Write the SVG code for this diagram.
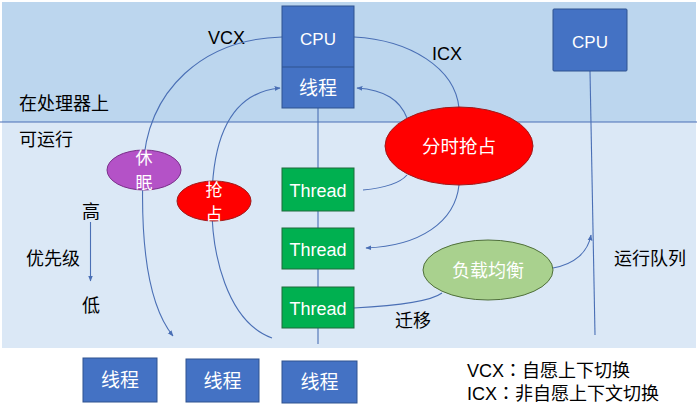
<svg xmlns="http://www.w3.org/2000/svg" width="700" height="409" viewBox="0 0 700 409">
<defs>
<marker id="ah" viewBox="0 0 10 10" refX="9" refY="5" markerWidth="6" markerHeight="6" orient="auto" markerUnits="userSpaceOnUse">
<path d="M0,1 L10,5 L0,9 Z" fill="#4a6fb5"/>
</marker>
<style>
text{font-family:"Liberation Sans","Noto Sans CJK SC",sans-serif;}
.k{fill:#000;font-size:18px;}
.w{fill:#fff;text-anchor:middle;}
.blue{fill:#4472c4;stroke:#2f528f;stroke-width:1;}
.grn{fill:#00b050;stroke:#1f6b3a;stroke-width:1;}
.c{fill:none;stroke:#4a6fb5;stroke-width:1.1;}
.ln{stroke:#4a6fb5;stroke-width:1.1;fill:none;}
.lg{font-family:"Liberation Sans","Noto Sans CJK TC",sans-serif;}
</style>
</defs>
<rect x="0" y="0" width="700" height="409" fill="#ffffff"/>
<rect x="2" y="2" width="694" height="120" fill="#bcd6ee"/>
<rect x="2" y="122" width="694" height="226" fill="#dbe8f6"/>
<line x1="0" y1="122" x2="697" y2="122" stroke="#4a6fb5" stroke-width="1.2"/>

<g id="region-labels">
<text class="k" x="19" y="110" font-size="18.5">在处理器上</text>
<text class="k" x="19" y="146">可运行</text>
<text class="k" x="91" y="218" text-anchor="middle" font-size="17">高</text>
<text class="k" x="26" y="265">优先级</text>
<text class="k" x="91" y="312" text-anchor="middle" font-size="17">低</text>
<text class="k" x="614" y="265">运行队列</text>
<text class="k" x="395" y="327">迁移</text>
<text class="k" x="208" y="44" font-size="16">VCX</text>
<text class="k" x="432" y="60" font-size="16">ICX</text>
</g>

<g id="connectors">
<line class="ln" x1="318" y1="108" x2="318" y2="344"/>
<line class="ln" x1="590" y1="71" x2="595" y2="335"/>
<line class="ln" x1="90.5" y1="222" x2="90.5" y2="281" marker-end="url(#ah)"/>
<path class="c" d="M282,37 C205,39 146,88 143,170 C140,258 152,310 173,336" marker-end="url(#ah)"/>
<path class="c" d="M272,338 C228,322 210,255 212,195 C214,125 238,92 280,88" marker-end="url(#ah)"/>
<path class="c" d="M354,37 C410,40 455,68 459,108"/>
<path class="c" d="M407,118 C400,100 385,90 357,88" marker-end="url(#ah)"/>
<path class="c" d="M363,190 C385,188 400,183 407,175"/>
<path class="c" d="M459,185 C455,222 420,246 366,248" marker-end="url(#ah)"/>
<path class="c" d="M354,308 C392,306 430,302 442,293"/>
<path class="c" d="M553,268 C575,264 588,252 591,235" marker-end="url(#ah)"/>
</g>

<g id="cpu1">
<rect class="blue" x="282" y="6" width="72" height="102"/>
<line x1="282" y1="67" x2="354" y2="67" stroke="#2f528f" stroke-width="1"/>
<text class="w" x="318" y="45" font-size="17">CPU</text>
<text class="w" x="318" y="95" font-size="19">线程</text>
</g>

<g id="cpu2">
<rect class="blue" x="553" y="9" width="74" height="62" rx="1"/>
<text class="w" x="590" y="48" font-size="17">CPU</text>
</g>

<g id="thread1">
<rect class="grn" x="282" y="168" width="72" height="43"/>
<text class="w" x="318" y="197" font-size="18">Thread</text>
</g>
<g id="thread2">
<rect class="grn" x="282" y="228" width="72" height="41"/>
<text class="w" x="318" y="256" font-size="18">Thread</text>
</g>
<g id="thread3">
<rect class="grn" x="282" y="287" width="72" height="41"/>
<text class="w" x="318" y="315" font-size="18">Thread</text>
</g>

<g id="sleep">
<ellipse cx="144" cy="170" rx="37" ry="20" fill="#b452c7" stroke="#7a2f8a" stroke-width="1"/>
<text class="w" x="144" y="164" font-size="17">休</text>
<text class="w" x="144" y="189" font-size="17">眠</text>
</g>

<g id="preempt">
<ellipse cx="214" cy="201" rx="37" ry="20" fill="#ff0000" stroke="#a01818" stroke-width="1"/>
<text class="w" x="214" y="196" font-size="17">抢</text>
<text class="w" x="214" y="220" font-size="17">占</text>
</g>

<g id="timeslice">
<ellipse cx="459" cy="146" rx="74" ry="39" fill="#ff0000" stroke="#a01818" stroke-width="1"/>
<text class="w" x="459" y="153" font-size="18.5">分时抢占</text>
</g>

<g id="balance">
<ellipse cx="488" cy="270" rx="65" ry="30" fill="#a9d18e" stroke="#4f6f3a" stroke-width="1"/>
<text class="w" x="488" y="277" font-size="18" fill="#f3f9ee">负载均衡</text>
</g>

<g id="t-a">
<rect class="blue" x="83" y="358" width="74" height="44"/>
<text class="w" x="120" y="387" font-size="19">线程</text>
</g>
<g id="t-b">
<rect class="blue" x="186" y="359" width="73" height="43"/>
<text class="w" x="222.5" y="388" font-size="19">线程</text>
</g>
<g id="t-c">
<rect class="blue" x="282" y="361" width="75" height="42"/>
<text class="w" x="319.5" y="389" font-size="19">线程</text>
</g>

<g id="legend">
<text class="k lg" x="467" y="377">VCX：自愿上下切换</text>
<text class="k lg" x="467" y="400">ICX：非自愿上下文切换</text>
</g>
</svg>
